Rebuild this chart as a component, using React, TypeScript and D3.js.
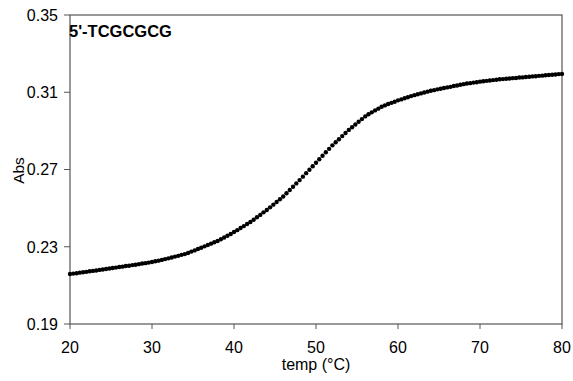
import React from "react";
import * as d3 from "d3";

const TITLE = "5'-TCGCGCG";
const X_LABEL = "temp (°C)";
const Y_LABEL = "Abs";
const X_TICKS = [20, 30, 40, 50, 60, 70, 80];
const Y_TICKS = [0.19, 0.23, 0.27, 0.31, 0.35];
const TEMP_START = 20;
const TEMP_STEP = 0.4;
const ABS = [
  0.2159, 0.2161, 0.2163, 0.2166, 0.2168,
  0.2170, 0.2173, 0.2175, 0.2177, 0.2180,
  0.2182, 0.2185, 0.2187, 0.2190, 0.2192,
  0.2195, 0.2197, 0.2200, 0.2202, 0.2205,
  0.2207, 0.2210, 0.2213, 0.2215, 0.2218,
  0.2221, 0.2225, 0.2228, 0.2232, 0.2236,
  0.2240, 0.2244, 0.2249, 0.2253, 0.2258,
  0.2262, 0.2268, 0.2275, 0.2281, 0.2288,
  0.2295, 0.2302, 0.2309, 0.2316, 0.2323,
  0.2330, 0.2339, 0.2348, 0.2357, 0.2366,
  0.2376, 0.2386, 0.2397, 0.2407, 0.2418,
  0.2428, 0.2440, 0.2453, 0.2465, 0.2478,
  0.2490, 0.2504, 0.2518, 0.2532, 0.2546,
  0.2560, 0.2577, 0.2594, 0.2611, 0.2628,
  0.2645, 0.2663, 0.2681, 0.2699, 0.2717,
  0.2735, 0.2753, 0.2771, 0.2789, 0.2807,
  0.2825, 0.2841, 0.2857, 0.2873, 0.2889,
  0.2905, 0.2919, 0.2933, 0.2947, 0.2961,
  0.2975, 0.2986, 0.2996, 0.3006, 0.3015,
  0.3025, 0.3032, 0.3039, 0.3045, 0.3051,
  0.3058, 0.3063, 0.3069, 0.3074, 0.3080,
  0.3085, 0.3090, 0.3094, 0.3099, 0.3103,
  0.3108, 0.3111, 0.3115, 0.3118, 0.3122,
  0.3125, 0.3128, 0.3132, 0.3135, 0.3139,
  0.3142, 0.3145, 0.3147, 0.3150, 0.3152,
  0.3155, 0.3157, 0.3159, 0.3161, 0.3163,
  0.3165, 0.3167, 0.3168, 0.3170, 0.3171,
  0.3173, 0.3174, 0.3176, 0.3177, 0.3179,
  0.3180, 0.3182, 0.3183, 0.3185, 0.3186,
  0.3188, 0.3189, 0.3191, 0.3192, 0.3194,
  0.3195,
];

const W = 573;
const H = 381;
const M = { left: 70, right: 562, top: 15, bottom: 324 };
const FONT = "'Liberation Sans', Arial, sans-serif";

export default function App() {
  const x = d3.scaleLinear().domain([20, 80]).range([M.left, M.right]);
  const y = d3.scaleLinear().domain([0.19, 0.35]).range([M.bottom, M.top]);
  const data = ABS.map((v, i) => ({ t: TEMP_START + i * TEMP_STEP, v }));

  return (
    <svg
      width={W}
      height={H}
      style={{ position: "absolute", left: 0, top: 0, background: "#fff" }}
      fontFamily={FONT}
    >
      <rect x={0} y={0} width={W} height={H} fill="#fff" />
      <rect
        x={M.left}
        y={M.top}
        width={M.right - M.left}
        height={M.bottom - M.top}
        fill="none"
        stroke="#555"
        strokeWidth={1.2}
      />
      {Y_TICKS.map((t) => (
        <g key={"y" + t}>
          <line x1={M.left - 6} x2={M.left} y1={y(t)} y2={y(t)} stroke="#555" />
          <text
            x={M.left - 12}
            y={y(t)}
            dy="0.36em"
            textAnchor="end"
            fontSize={16}
            fill="#000"
          >
            {t.toFixed(2)}
          </text>
        </g>
      ))}
      {X_TICKS.map((t) => (
        <g key={"x" + t}>
          <line x1={x(t)} x2={x(t)} y1={M.bottom} y2={M.bottom + 5} stroke="#555" />
          <text x={x(t)} y={353} textAnchor="middle" fontSize={16} fill="#000">
            {t}
          </text>
        </g>
      ))}
      <text
        x={(M.left + M.right) / 2}
        y={370}
        textAnchor="middle"
        fontSize={16}
        fill="#000"
      >
        {X_LABEL}
      </text>
      <text
        transform={`translate(24,${(M.top + M.bottom) / 2 + 1}) rotate(-90)`}
        textAnchor="middle"
        fontSize={15.5}
        fill="#000"
      >
        {Y_LABEL}
      </text>
      <text x={M.left - 1} y={37} fontSize={16.5} fontWeight="bold" fill="#000">
        {TITLE}
      </text>
      {data.map((d, i) => (
        <circle key={i} cx={x(d.t)} cy={y(d.v)} r={2.2} fill="#000" />
      ))}
    </svg>
  );
}
